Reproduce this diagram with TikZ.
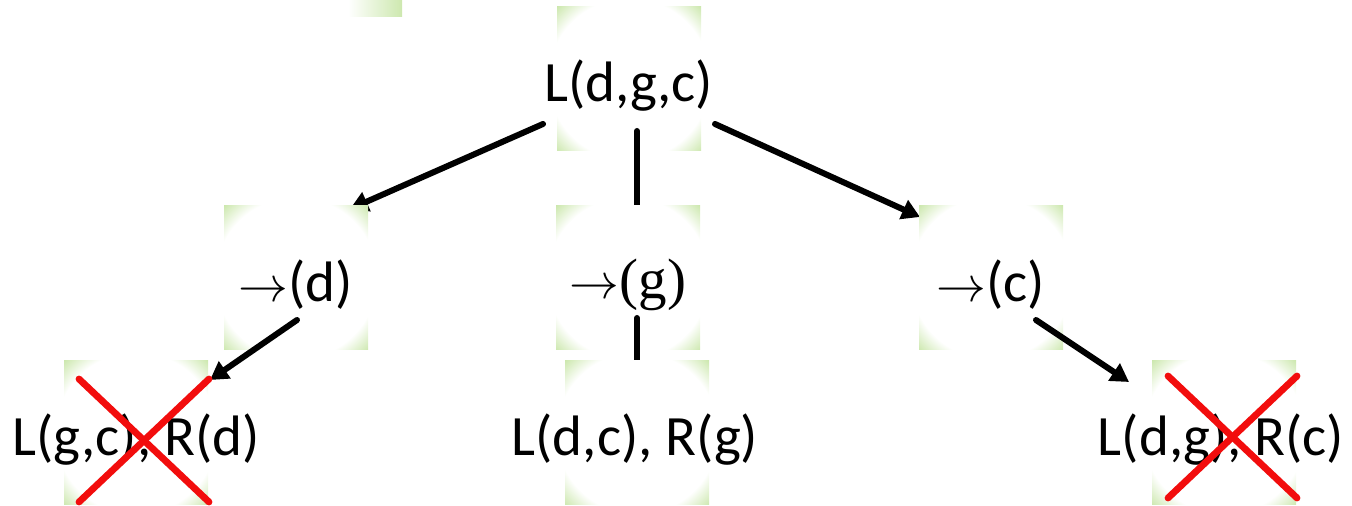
\documentclass[tikz,border=0pt]{standalone}
\usepackage{fontspec}
\setmainfont{Carlito}
\newfontfamily\serifg{Liberation Serif}
\usetikzlibrary{arrows.meta}
\definecolor{leaf}{HTML}{CDE8AF}
\definecolor{strike}{HTML}{F20D0D}
\pgfdeclareradialshading{tilefade}{\pgfpoint{0bp}{0bp}}{color(0bp)=(white); color(28bp)=(white); color(35.36bp)=(leaf); color(50bp)=(leaf)}
\newcommand{\goes}{{\fontsize{23}{28}\selectfont$\rightarrow$}}

\begin{document}
\begin{tikzpicture}[x=0.5pt,y=-0.5pt,>=Stealth,
    tile/.style={shade,shading=tilefade,minimum size=72pt,inner sep=0pt},
    word/.style={inner sep=0pt,font=\fontsize{28.5}{34}\selectfont},
    link/.style={line width=3pt,line cap=round,-{Triangle[length=9pt,width=10pt]}},
    cross/.style={strike,line width=3.4pt,line cap=round}]
  \useasboundingbox (0,0) rectangle (1352,506);

  % box centres
  \coordinate (pTop) at (629,79);
  \coordinate (pD) at (296,278);
  \coordinate (pG) at (628,278);
  \coordinate (pC) at (991,278);
  \coordinate (pGC) at (136,433);
  \coordinate (pDC) at (637,433);
  \coordinate (pDG) at (1224,433);

  % stray tile corner
  \shade[left color=white,right color=leaf] (348,0) rectangle (402,17);

  % root
  \node[tile] (top) at (pTop) {};
  \node[word] (topw) at ([yshift=-3.5pt]top.center) {L(d,g,c)};

  \draw[link] ([shift={(-86,45)}]top.center) -- ([shift={(54,-69)}]pD);
  \draw[link] ([shift={(8,52)}]top.center) -- ([shift={(9,-40)}]pG);
  \draw[link] ([shift={(86,45)}]top.center) -- ([shift={(-71,-61)}]pC);

  % choices
  \node[tile] (d) at (pD) {};
  \node[word] (dw) at ([yshift=-3.5pt]d.center) {\goes(d)};
  \node[tile] (g) at (pG) {};
  \node[word] (gw) at ([yshift=-3.5pt]g.center) {\goes{\serifg(g)}};
  \node[tile] (c) at (pC) {};
  \node[word] (cw) at ([yshift=-3.5pt]c.center) {\goes(c)};

  \draw[link] ([shift={(1,42)}]d.center) -- ([shift={(74,-53)}]pGC);
  \draw[link] ([shift={(9,40)}]g.center) -- ([shift={(0,-40)}]pDC);
  \draw[link] ([shift={(45,42)}]c.center) -- ([shift={(-95,-51)}]pDG);

  % leaves
  \node[tile] (gc) at (pGC) {};
  \node[word] (gcw) at ([yshift=-3.5pt]gc.center) {L(g,c), R(d)};
  \node[tile] (dc) at (pDC) {};
  \node[word] (dcw) at ([shift={(-2,7)}]dc.center) {L(d,c), R(g)};
  \node[tile] (dg) at (pDG) {};
  \node[word] (dgw) at ([shift={(-3,7)}]dg.center) {L(d,g), R(c)};

  % dead ends
  \draw[cross] ([shift={(-57,-54)}]gc.center) -- ([shift={(73,69)}]gc.center);
  \draw[cross] ([shift={(-57,69)}]gc.center) -- ([shift={(73,-54)}]gc.center);
  \draw[cross] ([shift={(-56,-57)}]dg.center) -- ([shift={(73,65)}]dg.center);
  \draw[cross] ([shift={(-56,65)}]dg.center) -- ([shift={(73,-57)}]dg.center);
\end{tikzpicture}
\end{document}
